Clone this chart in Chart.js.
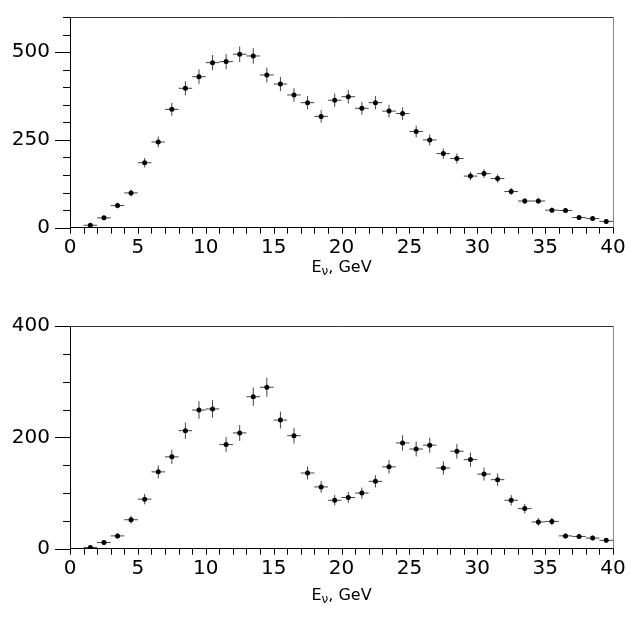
<!DOCTYPE html>
<html>
<head>
<meta charset="utf-8">
<script src="https://cdn.jsdelivr.net/npm/chart.js@4.4.1/dist/chart.umd.min.js"></script>
<style>
  body { margin: 0; background: #fff; }
  canvas { position: absolute; left: 0; }
  #top { top: 0; }
  #bottom { top: 300px; }
</style>
</head>
<body>
<canvas id="top" width="631" height="300"></canvas>
<canvas id="bottom" width="631" height="335"></canvas>
<script>
// bin centres, GeV
const binCenters = [0.5, 1.5, 2.5, 3.5, 4.5, 5.5, 6.5, 7.5, 8.5, 9.5,
  10.5, 11.5, 12.5, 13.5, 14.5, 15.5, 16.5, 17.5, 18.5, 19.5,
  20.5, 21.5, 22.5, 23.5, 24.5, 25.5, 26.5, 27.5, 28.5, 29.5,
  30.5, 31.5, 32.5, 33.5, 34.5, 35.5, 36.5, 37.5, 38.5, 39.5];
const binHalfWidth = 0.5;

const topCounts = [null, 7, 28, 63, 99, 185, 244, 337, 397, 430,
  470, 473, 494, 489, 435, 409, 378, 356, 317, 363,
  373, 340, 356, 332, 325, 274, 250, 211, 197, 147,
  154, 140, 103, 76, 76, 50, 49, 29, 26, 18];
const topErrors = [0, 2.6, 5.3, 7.9, 9.9, 13.6, 15.6, 18.4, 19.9, 20.7,
  21.7, 21.7, 22.2, 22.1, 20.9, 20.2, 19.4, 18.9, 17.8, 19.1,
  19.3, 18.4, 18.9, 18.2, 18.0, 16.6, 15.8, 14.5, 14.0, 12.1,
  12.4, 11.8, 10.1, 8.7, 8.7, 7.1, 7.0, 5.4, 5.1, 4.2];

const bottomCounts = [null, 2, 11, 23, 52, 89, 138, 165, 212, 249,
  251, 187, 208, 273, 290, 231, 203, 136, 111, 87,
  92, 100, 121, 147, 190, 179, 186, 145, 175, 160,
  134, 124, 87, 72, 48, 49, 23, 22, 19, 15];
const bottomErrors = [0, 1.4, 3.3, 4.8, 7.2, 9.4, 11.7, 12.8, 14.6, 15.8,
  15.8, 13.7, 14.4, 16.5, 17.0, 15.2, 14.2, 11.7, 10.5, 9.3,
  9.6, 10.0, 11.0, 12.1, 13.8, 13.4, 13.6, 12.0, 13.2, 12.6,
  11.6, 11.1, 9.3, 8.5, 6.9, 7.0, 4.8, 4.7, 4.4, 3.9];

const xMin = 0, xMax = 40, xStep = 5;
const topYMax = 600, topYStep = 250;
const bottomYMax = 400, bottomYStep = 200;
const yMinorStep = 50;

const tickFont = { family: 'DejaVu Sans', size: 20 };
Chart.defaults.color = '#000';

// error bars, frame, tick marks and the axis title
const histoPlugin = {
  id: 'histo',
  beforeDatasetsDraw(chart, args, opts) {
    const c = chart.ctx, xs = chart.scales.x, ys = chart.scales.y;
    c.save();
    c.strokeStyle = '#444';
    c.lineWidth = 1;
    opts.values.forEach((v, i) => {
      if (v === null) return;
      const x = xs.getPixelForValue(binCenters[i]);
      const y = ys.getPixelForValue(v);
      c.beginPath();
      c.moveTo(xs.getPixelForValue(binCenters[i] - binHalfWidth), y);
      c.lineTo(xs.getPixelForValue(binCenters[i] + binHalfWidth), y);
      c.moveTo(x, ys.getPixelForValue(Math.max(0, v - opts.errors[i])));
      c.lineTo(x, ys.getPixelForValue(v + opts.errors[i]));
      c.stroke();
    });
    c.restore();
  },
  afterDraw(chart, args, opts) {
    const c = chart.ctx, a = chart.chartArea, xs = chart.scales.x, ys = chart.scales.y;
    c.save();
    c.lineWidth = 1;
    // top and right of the frame
    c.strokeStyle = '#333';
    c.beginPath();
    c.moveTo(a.left, a.top + 0.5);
    c.lineTo(a.right, a.top + 0.5);
    c.stroke();
    c.strokeStyle = '#888';
    c.beginPath();
    c.moveTo(a.right + 0.5, a.top);
    c.lineTo(a.right + 0.5, a.bottom);
    c.stroke();
    // y ticks, long at labelled values
    c.strokeStyle = '#000';
    c.beginPath();
    for (let v = 0; v <= ys.max; v += yMinorStep) {
      const y = Math.round(ys.getPixelForValue(v)) + 0.5;
      const len = v % opts.major === 0 ? 15 : 7;
      c.moveTo(a.left - len, y);
      c.lineTo(a.left, y);
    }
    // x ticks every GeV
    for (let v = xMin; v <= xMax; v += 1) {
      const x = Math.round(xs.getPixelForValue(v)) + 0.5;
      c.moveTo(x, a.bottom);
      c.lineTo(x, a.bottom + 6);
    }
    c.stroke();
    // E_nu, GeV
    c.fillStyle = '#000';
    c.textBaseline = 'alphabetic';
    const big = "16px 'DejaVu Sans'", small = "12px 'DejaVu Sans'";
    c.font = big;
    const wE = c.measureText('E').width, wRest = c.measureText(', GeV').width;
    c.font = small;
    const wNu = c.measureText('\u03bd').width;
    let x = (a.left + a.right) / 2 - (wE + wNu + wRest) / 2;
    const y = opts.titleY;
    c.font = big;
    c.fillText('E', x, y);
    x += wE;
    c.font = small;
    c.fillText('\u03bd', x, y + 3);
    x += wNu;
    c.font = big;
    c.fillText(', GeV', x, y);
    c.restore();
  }
};

function makeChart(id, values, errors, yMax, yStep, padTop, xAxisHeight, titleY) {
  return new Chart(document.getElementById(id), {
    type: 'scatter',
    data: {
      datasets: [{
        data: binCenters.map((x, i) => ({ x: x, y: values[i] })),
        pointStyle: 'circle',
        pointRadius: 2.5,
        pointBackgroundColor: '#000',
        pointBorderColor: '#000',
        pointBorderWidth: 0
      }]
    },
    options: {
      responsive: false,
      animation: false,
      events: [],
      layout: { padding: { top: padTop, right: 18, left: 0, bottom: 0 } },
      plugins: {
        legend: { display: false },
        tooltip: { enabled: false },
        histo: { values: values, errors: errors, major: yStep, titleY: titleY }
      },
      scales: {
        x: {
          type: 'linear', min: xMin, max: xMax,
          ticks: { stepSize: xStep, padding: 2, font: tickFont, maxRotation: 0, autoSkip: false },
          grid: { drawOnChartArea: false, drawTicks: true, tickLength: 6, tickColor: 'rgba(0,0,0,0)' },
          border: { display: true, color: '#000', width: 1 },
          afterFit: s => { s.height = xAxisHeight; }
        },
        y: {
          type: 'linear', min: 0, max: yMax,
          ticks: { stepSize: yStep, includeBounds: false, padding: 5, font: tickFont, autoSkip: false },
          grid: { drawOnChartArea: false, drawTicks: true, tickLength: 15, tickColor: 'rgba(0,0,0,0)' },
          border: { display: true, color: '#000', width: 1 },
          afterFit: s => { s.width = 70; }
        }
      }
    },
    plugins: [histoPlugin]
  });
}

makeChart('top', topCounts, topErrors, topYMax, topYStep, 5, 300 - 227.7, 272);
makeChart('bottom', bottomCounts, bottomErrors, bottomYMax, bottomYStep, 26, 335 - 248.7, 300);
</script>
</body>
</html>
